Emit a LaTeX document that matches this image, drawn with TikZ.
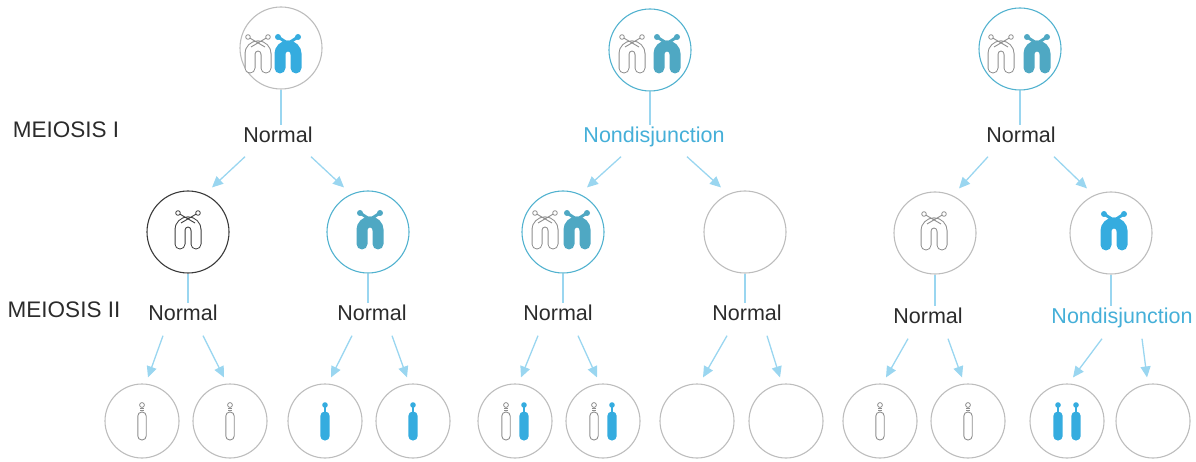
\documentclass[tikz,border=0pt]{standalone}
\usepackage{fontspec}
\setmainfont{Liberation Sans}
\usetikzlibrary{arrows.meta,calc}

\definecolor{ringgray}{HTML}{BDBDBD}
\definecolor{ringdark}{HTML}{3A3A3A}
\definecolor{ringblue}{HTML}{52B2CF}
\definecolor{linkblue}{HTML}{9AD6F0}
\definecolor{txtdark}{HTML}{2B2B2B}
\definecolor{txtblue}{HTML}{45AFD8}
\definecolor{chteal}{HTML}{4FA8C3}
\definecolor{chbright}{HTML}{35ACDF}
\definecolor{chline}{HTML}{8E8E8E}
\definecolor{chdark}{HTML}{3C3C3C}

\tikzset{
  ring/.style={circle, draw=ringgray, line width=1.1pt, minimum size=82pt, inner sep=0pt},
  ringsm/.style={ring, minimum size=74pt},
  lab/.style={font=\fontsize{21.5}{24}\selectfont, text=txtdark, inner sep=2pt,
              text height=15pt, text depth=4pt},
  ndlab/.style={lab, text=txtblue},
  stage/.style={lab, font=\fontsize{22.5}{26}\selectfont},
  link/.style={draw=linkblue, line width=1.3pt},
  arr/.style={link, -{Triangle[length=11pt,width=10pt]}},
  chcol/.store in=\chcol, chcol=chline,
  chfill/.store in=\chfill, chfill=chteal,
  % open (unfilled) chromosome: arch with crossed arms
  archopen/.pic={
    \draw[color=\chcol, line width=11pt, line cap=round, rounded corners=8pt]
      (-8,12) -- (-8,-10) -- (8,-10) -- (8,12);
    \draw[color=white, line width=9pt, line cap=round, rounded corners=8pt]
      (-8,12) -- (-8,-10) -- (8,-10) -- (8,12);
    \draw[color=\chcol, line width=0.9pt] (-10,-19) -- (7,-9) (10,-19) -- (-7,-9);
    \draw[color=\chcol, fill=white, line width=0.8pt] (-10,-19) circle (2.3) (10,-19) circle (2.3);
  },
  % filled chromosome
  archsolid/.pic={
    \draw[color=\chfill, line width=11pt, line cap=round, rounded corners=8pt]
      (-8,12) -- (-8,-10) -- (8,-10) -- (8,12);
    \draw[color=\chfill, line width=3pt, line cap=round] (-10,-19) -- (7,-8) (10,-19) -- (-7,-8);
    \fill[color=\chfill] (-10,-19) circle (3) (10,-19) circle (3);
  },
  % single chromatids
  tidopen/.pic={
    \draw[color=\chcol, fill=white, line width=0.9pt, rounded corners=4pt]
      (-4.2,-9) rectangle (4.2,19);
    \draw[color=\chcol, line width=0.8pt] (-2,-12.5) -- (2,-12.5) (-2,-10.5) -- (2,-10.5);
    \draw[color=\chcol, fill=white, line width=0.8pt] (0,-16) circle (2.4);
  },
  tidsolid/.pic={
    \fill[color=\chfill, rounded corners=4.5pt] (-4.7,-9.5) rectangle (4.7,19.5);
    \draw[color=\chfill, line width=2pt] (0,-14) -- (0,-9);
    \fill[color=\chfill] (0,-16) circle (2.8);
  },
}

\begin{document}
\begin{tikzpicture}[x=1pt, y=-1pt]
\useasboundingbox (0,0) rectangle (1196,462);

% stage labels
\node[stage] (s1) at (66,132) {MEIOSIS I};
\node[stage] (s2) at (64,312) {MEIOSIS II};

% ---- parent cells
\node[ring] (t1) at (281,48) {};
\node[ring, draw=ringblue] (t2) at (650,50) {};
\node[ring, draw=ringblue] (t3) at (1020,49) {};
\pic[chcol=chline] at (258,56) {archopen};
\pic[chfill=chbright] at (288,56) {archsolid};
\pic[chcol=chline] at (632,56) {archopen};
\pic[chfill=chteal] at (667,56) {archsolid};
\pic[chcol=chline] at (1001,56) {archopen};
\pic[chfill=chteal] at (1037,56) {archsolid};

% meiosis I labels
\node[lab] (l1) at (278,137) {Normal};
\node[ndlab] (l2) at (654,137) {Nondisjunction};
\node[lab] (l3) at (1021,137) {Normal};

% ---- cells after meiosis I
\node[ring, draw=ringdark] (m11) at (188,232) {};
\node[ring, draw=ringblue] (m12) at (368,232) {};
\node[ring, draw=ringblue] (m21) at (563,232) {};
\node[ring] (m22) at (745,232) {};
\node[ring] (m31) at (935,233) {};
\node[ring] (m32) at (1111,233) {};
\pic[chcol=chdark] at (188,232) {archopen};
\pic[chfill=chteal] at (370,232) {archsolid};
\pic[chcol=chline] at (545,232) {archopen};
\pic[chfill=chteal] at (577,232) {archsolid};
\pic[chcol=chline] at (934,233) {archopen};
\pic[chfill=chbright] at (1114,233) {archsolid};

% meiosis II labels
\node[lab] (n11) at (183,315) {Normal};
\node[lab] (n12) at (372,315) {Normal};
\node[lab] (n21) at (558,315) {Normal};
\node[lab] (n22) at (747,315) {Normal};
\node[lab] (n31) at (928,318) {Normal};
\node[ndlab] (n32) at (1122,318) {Nondisjunction};

% ---- gametes
\foreach \nm/\cx in {b11/142, b12/230, b13/325, b14/413,
                     b21/515, b22/603, b23/697, b24/786,
                     b31/880, b32/968, b33/1067, b34/1153}
  \node[ringsm] (\nm) at (\cx,421) {};
\pic[chcol=chline] at (b11) {tidopen};
\pic[chcol=chline] at (b12) {tidopen};
\pic[chfill=chbright] at (b13) {tidsolid};
\pic[chfill=chbright] at (b14) {tidsolid};
\pic[chcol=chline] at ($(b21)+(-9,0)$) {tidopen};
\pic[chfill=chbright] at ($(b21)+(9,0)$) {tidsolid};
\pic[chcol=chline] at ($(b22)+(-9,0)$) {tidopen};
\pic[chfill=chbright] at ($(b22)+(9,0)$) {tidsolid};
\pic[chcol=chline] at (b31) {tidopen};
\pic[chcol=chline] at (b32) {tidopen};
\pic[chfill=chbright] at ($(b33)+(-9,0)$) {tidsolid};
\pic[chfill=chbright] at ($(b33)+(9,0)$) {tidsolid};

% ---- connectors: parent cell to label
\foreach \c/\l in {t1/l1, t2/l2, t3/l3, m11/n11, m12/n12, m21/n21, m22/n22, m31/n31, m32/n32}
  \draw[link] (\c.south) -- (\c.south |- \l.north);

% ---- arrows: meiosis I
\foreach \l/\a/\b in {l1/m11/m12, l2/m21/m22, l3/m31/m32}{
  \draw[arr] ($(\l.south)+(-33,8)$) -- ($(\a.north)+(24,-3)$);
  \draw[arr] ($(\l.south)+(33,8)$) -- ($(\b.north)+(-24,-3)$);
}

% ---- arrows: meiosis II
\foreach \l/\a/\b in {n11/b11/b12, n12/b13/b14, n21/b21/b22, n22/b23/b24, n31/b31/b32, n32/b33/b34}{
  \draw[arr] ($(\l.south)+(-20,9)$) -- ($(\a.north)+(6,-6)$);
  \draw[arr] ($(\l.south)+(20,9)$) -- ($(\b.north)+(-6,-6)$);
}
\end{tikzpicture}
\end{document}
